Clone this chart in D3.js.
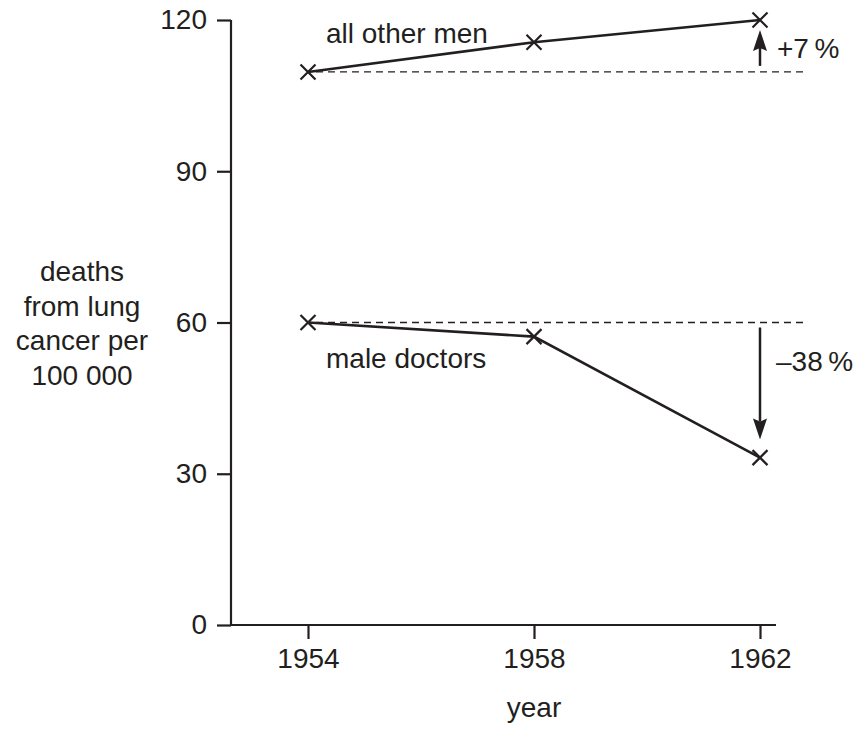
<!DOCTYPE html>
<html>
<head>
<meta charset="utf-8">
<script src="https://cdn.jsdelivr.net/npm/d3@7"></script>
<style>
  body { margin: 0; background: #fff; }
  text { font-family: "Liberation Sans", Arial, sans-serif; fill: #231f20; }
</style>
</head>
<body>
<svg id="chart" width="859" height="731"></svg>
<script>
const years = [1954, 1958, 1962]
const otherMen = [109.7, 115.6, 120]
const doctors = [60, 57.2, 33.2]
const yTicks = [0, 30, 60, 90, 120]
const yTitle = ["deaths", "from lung", "cancer per", "100 000"]
const changeLabels = ["+7\u2009%", "\u201338\u2009%"]

const ink = "#231f20"
const fontSize = 28

const svg = d3.select("#chart")

const x = d3.scaleLinear().domain([1954, 1962]).range([308, 760])
const y = d3.scaleLinear().domain([0, 120]).range([625, 20])
const axisLeftX = 231
const axisRightX = 776

// y axis
const yAxis = svg.append("g")
    .attr("transform", "translate(" + axisLeftX + ",0)")
    .call(d3.axisLeft(y).tickValues(yTicks).tickSize(14).tickPadding(10))
yAxis.select(".domain").attr("d", "M0," + y(120) + "V" + y(0))
yAxis.selectAll("line, path").attr("stroke", ink).attr("stroke-width", 2.2)
yAxis.selectAll("text")
    .attr("font-size", fontSize)
    .attr("font-family", "Liberation Sans, Arial, sans-serif")
    .attr("fill", ink)

// x axis
const xAxis = svg.append("g")
    .attr("transform", "translate(0," + y(0) + ")")
    .call(d3.axisBottom(x).tickValues(years).tickFormat(d3.format("d")).tickSize(14).tickPadding(9))
xAxis.select(".domain").attr("d", "M" + axisLeftX + ",0H" + axisRightX)
xAxis.selectAll("line, path").attr("stroke", ink).attr("stroke-width", 2.2)
xAxis.selectAll("text")
    .attr("font-size", fontSize)
    .attr("font-family", "Liberation Sans, Arial, sans-serif")
    .attr("fill", ink)

// axis titles
svg.append("text")
    .attr("x", x(1958))
    .attr("y", 717)
    .attr("text-anchor", "middle")
    .attr("font-size", fontSize)
    .text("year")

svg.append("text")
    .attr("text-anchor", "middle")
    .attr("font-size", fontSize)
    .selectAll("tspan")
    .data(yTitle)
    .join("tspan")
    .attr("x", 82)
    .attr("y", (d, i) => 281 + i * 34.7)
    .text(d => d)

// dashed reference lines at 1954 values
const refs = [otherMen[0], doctors[0]]
svg.selectAll(".ref")
    .data(refs)
    .join("line")
    .attr("class", "ref")
    .attr("x1", x(1954) + 8)
    .attr("x2", 808)
    .attr("y1", d => y(d))
    .attr("y2", d => y(d))
    .attr("stroke", ink)
    .attr("stroke-width", 1.3)
    .attr("stroke-dasharray", "7,5")

// series lines + cross markers
const line = d3.line().x((d, i) => x(years[i])).y(d => y(d))
const series = [otherMen, doctors]
series.forEach(s => {
    svg.append("path")
        .attr("d", line(s))
        .attr("fill", "none")
        .attr("stroke", ink)
        .attr("stroke-width", 2.6)
    svg.selectAll(null)
        .data(s)
        .join("path")
        .attr("d", (d, i) => {
            const cx = x(years[i]), cy = y(d), r = 7.5
            return "M" + (cx - r) + "," + (cy - r) + "L" + (cx + r) + "," + (cy + r) +
                "M" + (cx - r) + "," + (cy + r) + "L" + (cx + r) + "," + (cy - r)
        })
        .attr("stroke", ink)
        .attr("stroke-width", 2.2)
})

// series labels
svg.append("text")
    .attr("x", 326)
    .attr("y", 43)
    .attr("font-size", fontSize)
    .text("all other men")
svg.append("text")
    .attr("x", 326)
    .attr("y", 368)
    .attr("font-size", fontSize)
    .text("male doctors")

// change arrows (slightly barbed heads)
const arrow = (xPos, yFrom, yTo) => {
    const dir = yTo < yFrom ? -1 : 1
    const headLen = 21, headW = 7, notch = 3
    svg.append("line")
        .attr("x1", xPos).attr("x2", xPos)
        .attr("y1", yFrom).attr("y2", yTo - dir * (headLen - notch))
        .attr("stroke", ink)
        .attr("stroke-width", 2.5)
    svg.append("path")
        .attr("d", "M" + xPos + "," + yTo +
            "L" + (xPos - headW) + "," + (yTo - dir * headLen) +
            "L" + xPos + "," + (yTo - dir * (headLen - notch)) +
            "L" + (xPos + headW) + "," + (yTo - dir * headLen) + "Z")
        .attr("fill", ink)
}
const x62 = x(1962)
arrow(x62, y(otherMen[0]) - 6, y(otherMen[2]) + 10)
arrow(x62, y(doctors[0]) + 5, y(doctors[2]) - 18)

svg.append("text")
    .attr("x", 777)
    .attr("y", 58)
    .attr("font-size", fontSize)
    .text(changeLabels[0])
svg.append("text")
    .attr("x", 776)
    .attr("y", 371)
    .attr("font-size", fontSize)
    .text(changeLabels[1])
</script>
</body>
</html>
